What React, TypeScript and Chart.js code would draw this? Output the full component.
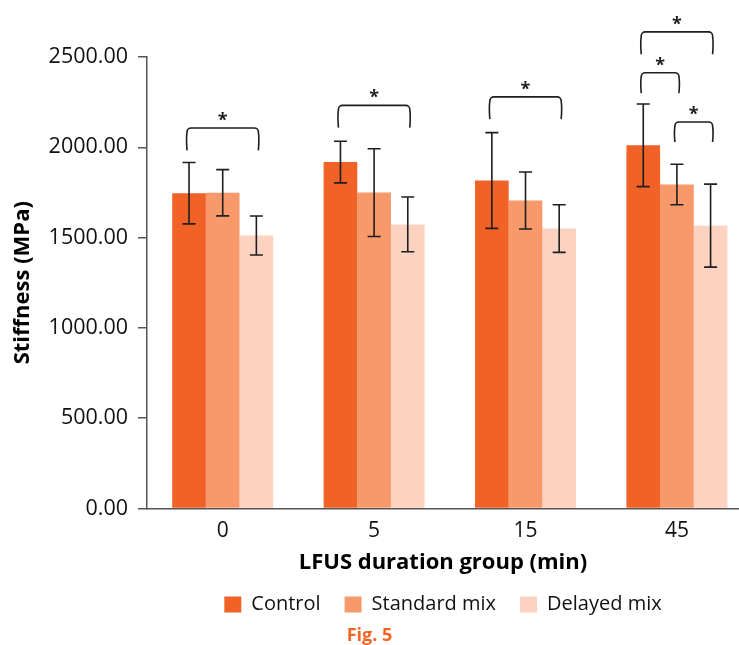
import React, { useEffect, useRef } from 'react';
import { Chart, registerables } from 'chart.js';

Chart.register(...registerables);

// ---- data ----
const groups = ['0', '5', '15', '45'];
const seriesNames = ['Control', 'Standard mix', 'Delayed mix'];
const controlMean = [1746, 1918, 1816, 2011];
const standardMean = [1748, 1749, 1705, 1794];
const delayedMean = [1511, 1573, 1550, 1566];
const controlSD = [170, 115, 265, 229];
const standardSD = [128, 243, 158, 112];
const delayedSD = [108, 152, 132, 230];
const yTickStep = 500;
const yMax = 2500;
// significance brackets: group index, from series, to series, foot value, top value
const bracketGroup = [0, 1, 2, 3, 3, 3];
const bracketFrom = [0, 0, 0, 0, 0, 1];
const bracketTo = [2, 2, 2, 2, 1, 2];
const bracketBase = [1983, 2109, 2156, 2515, 2300, 2029];
const bracketTop = [2107, 2232, 2279, 2639, 2413, 2140];

const colors = ['#f06226', '#f7996a', '#fcd2c0'];
const FONT = "'Open Sans', sans-serif";

const means = [controlMean, standardMean, delayedMean];
const sds = [controlSD, standardSD, delayedSD];

const annotations = {
  id: 'annotations',
  afterDatasetsDraw(chart: any) {
    const ctx = chart.ctx;
    const y = chart.scales.y;
    ctx.save();
    ctx.strokeStyle = '#1e1e1e';
    ctx.lineWidth = 1.6;
    // error bars
    sds.forEach((sd, d) => {
      const meta = chart.getDatasetMeta(d);
      meta.data.forEach((bar: any, i: number) => {
        const m = means[d][i];
        const yHi = y.getPixelForValue(m + sd[i]);
        const yLo = y.getPixelForValue(m - sd[i]);
        const cw = 6.5;
        ctx.beginPath();
        ctx.moveTo(bar.x, yHi);
        ctx.lineTo(bar.x, yLo);
        ctx.moveTo(bar.x - cw, yHi);
        ctx.lineTo(bar.x + cw, yHi);
        ctx.moveTo(bar.x - cw, yLo);
        ctx.lineTo(bar.x + cw, yLo);
        ctx.stroke();
      });
    });
    // brackets
    ctx.font = `bold 18px ${FONT}`;
    ctx.fillStyle = '#1e1e1e';
    ctx.textAlign = 'center';
    ctx.textBaseline = 'alphabetic';
    bracketGroup.forEach((g, k) => {
      const x1 = chart.getDatasetMeta(bracketFrom[k]).data[g].x - 2;
      const x2 = chart.getDatasetMeta(bracketTo[k]).data[g].x + 2;
      const yb = y.getPixelForValue(bracketBase[k]);
      const yt = y.getPixelForValue(bracketTop[k]);
      const r = 4;
      ctx.beginPath();
      ctx.moveTo(x1, yb);
      ctx.quadraticCurveTo(x1 - 1, (yb + yt) / 2, x1, yt + r);
      ctx.arcTo(x1, yt, x1 + r, yt, r);
      ctx.lineTo(x2 - r, yt);
      ctx.arcTo(x2, yt, x2, yt + r, r);
      ctx.quadraticCurveTo(x2 + 1, (yb + yt) / 2, x2, yb);
      ctx.stroke();
      ctx.fillText('*', (x1 + x2) / 2, yt - 2);
    });
    ctx.restore();
  },
};

export default function App() {
  const ref = useRef<HTMLCanvasElement | null>(null);
  useEffect(() => {
    if (!ref.current) return;
    const chart = new Chart(ref.current, {
      type: 'bar',
      data: {
        datasets: means.map((arr, d) => ({
          label: seriesNames[d],
          data: arr.map((v, i) => ({ x: i, y: v })),
          backgroundColor: colors[d],
          borderWidth: 0,
          categoryPercentage: 0.667,
          barPercentage: 1.0,
        })),
      },
      options: {
        responsive: false,
        animation: false,
        devicePixelRatio: 1,
        layout: { padding: { top: 57, left: 0, right: 0, bottom: 0 } },
        plugins: {
          legend: {
            position: 'bottom',
            fullSize: false,
            labels: {
              boxWidth: 17,
              boxHeight: 16,
              padding: 24,
              color: '#111',
              font: { family: FONT, size: 20 },
            },
          },
          title: {
            display: true,
            position: 'bottom',
            text: 'Fig. 5',
            color: '#f26522',
            font: { family: FONT, size: 18, weight: 'bold' },
            padding: { top: 0.8, bottom: -1.8 },
          },
          tooltip: { enabled: false },
        },
        scales: {
          x: {
            type: 'linear',
            min: -0.5,
            max: 3.41,
            offset: false,
            grid: { display: true, drawOnChartArea: false, drawTicks: false },
            border: { color: '#555', width: 1.5 },
            ticks: {
              stepSize: 1,
              includeBounds: false,
              autoSkip: false,
              maxRotation: 0,
              padding: 10.5,
              color: '#111',
              font: { family: FONT, size: 21 },
              callback: (v: any) => (Number.isInteger(v) && groups[v] !== undefined ? groups[v] : ''),
            },
            title: {
              display: true,
              text: 'LFUS duration group (min)',
              color: '#000',
              font: { family: FONT, size: 22, weight: 'bold' },
              padding: { top: 0, bottom: -6 },
            },
            afterFit: (s: any) => {
              s.height = 62;
            },
          },
          y: {
            min: 0,
            max: yMax,
            grid: { drawOnChartArea: false, drawTicks: true, tickLength: 9, color: '#555', lineWidth: 1.5 },
            border: { color: '#555', width: 1.5 },
            ticks: {
              stepSize: yTickStep,
              padding: 10,
              color: '#111',
              font: { family: FONT, size: 21.5 },
              callback: (v: any) => Number(v).toFixed(2),
            },
            title: {
              display: true,
              text: 'Stiffness (MPa)',
              color: '#000',
              font: { family: FONT, size: 22, weight: 'bold' },
              padding: { top: 10, bottom: 0 },
            },
            afterFit: (s: any) => {
              s.width = 147;
            },
          },
        },
      } as any,
      plugins: [annotations],
    });
    return () => chart.destroy();
  }, []);
  return (
    <div style={{ position: 'absolute', left: 0, top: 0, width: 739, height: 645 }}>
      <canvas ref={ref} width={739} height={645} style={{ display: 'block' }} />
    </div>
  );
}
